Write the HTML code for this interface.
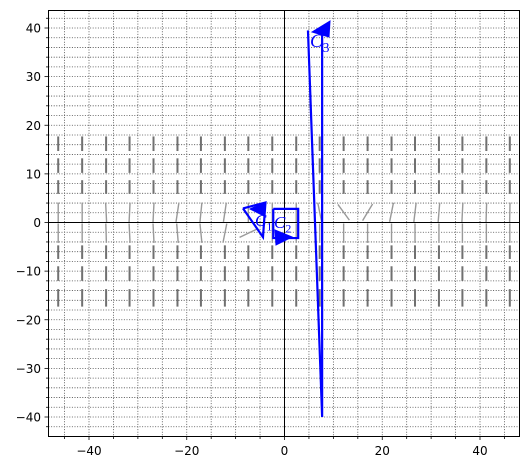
<!DOCTYPE html>
<html><head><meta charset="utf-8"><style>
html,body{margin:0;padding:0;background:#fff;}
svg{display:block;font-family:"DejaVu Sans","Liberation Sans",sans-serif;}
</style></head><body>
<svg id="chart" width="528" height="470" viewBox="0 0 528 470" xmlns="http://www.w3.org/2000/svg">
<rect x="0" y="0" width="528" height="470" fill="#fff"/>
<g id="grid"></g>
<g id="field"></g>
<g id="axes"></g>
<g id="curves"></g>
<rect x="48.5" y="10.5" width="471" height="426" fill="none" stroke="#000" stroke-width="1"/>
</svg>
<script>
const xTickLabels=[-40,-20,0,20,40];
const yTickLabels=[-40,-30,-20,-10,0,10,20,30,40];
const fieldCols=[-46.3,-41.4,-36.5,-31.7,-26.8,-21.9,-17.1,-12.2,-7.4,-2.5,2.4,7.2,12.1,17,21.9,26.7,31.6,36.4,41.3,46.1];
const fieldRows=[16.2,11.7,7.3,2.1,-2.2,-6.1,-10.5,-15.5];
const rowHalfLen=[1.5,1.5,1.4,2.0,2.0,1.4,1.5,1.8];
const row4Slopes=[0,0,-0.05,0.05,0.05,0.15,0.1,0.15,0,0,0,-0.2,-0.73,0.6,0.2,0.12,0.08,0.05,0.03,0.02];
const row5Slopes=[0,0,-0.03,-0.05,-0.05,-0.08,-0.1,0.2,2.1,0,0,0,0,0,0,0,0,0,0,0];
const c1X=[-8.5,-4.4,-3.9,-8.5];
const c1Y=[2.9,-3.0,4.1,2.9];
const c2X=[-2.3,2.8,2.8,-2.3,-2.3];
const c2Y=[2.8,2.8,-3.2,-3.2,2.8];
const c3X=[4.8,7.7,7.7];
const c3Y=[39.5,-40,39.5];

const NS="http://www.w3.org/2000/svg";
const X=u=>284.5+u*4.8875;
const Y=v=>222.5-v*4.8625;
function mk(tag,attrs,parent){const e=document.createElementNS(NS,tag);for(const k in attrs)e.setAttribute(k,attrs[k]);parent.appendChild(e);return e;}
const grid=document.getElementById('grid'),field=document.getElementById('field'),axes=document.getElementById('axes'),curves=document.getElementById('curves');

for(let u=-45;u<=45;u+=5){
 const l=mk('line',{x1:X(u),x2:X(u),y1:10.5,y2:436.5,stroke:'#444','stroke-width':0.8,'stroke-dasharray':'1,1.6'},grid);
 
 
 const t=mk('line',{x1:X(u),x2:X(u),y1:436.5,y2:(u%20===0)?440:439,stroke:'#000','stroke-width':0.8},axes);
 
 
}
for(let v=-42;v<=42;v+=2){
 const l=mk('line',{x1:48.5,x2:519.5,y1:Y(v),y2:Y(v),stroke:'#444','stroke-width':0.8,'stroke-dasharray':'1,1.6'},grid);
 
 
 const t=mk('line',{x1:48.5,x2:(v%10===0)?44.5:46,y1:Y(v),y2:Y(v),stroke:'#000','stroke-width':0.8},axes);
 
 
}
xTickLabels.forEach(v=>{
 const t=mk('text',{x:X(v),y:455,'font-size':12,'text-anchor':'middle',fill:'#000'},axes);
 t.textContent=(v<0?'\u2212'+(-v):v);
 
 
});
yTickLabels.forEach(v=>{
 const t=mk('text',{x:41,y:Y(v)+4.5,'font-size':12,'text-anchor':'end',fill:'#000'},axes);
 t.textContent=(v<0?'\u2212'+(-v):v);
 
 
});
let ax=mk('line',{x1:X(0),x2:X(0),y1:10.5,y2:436.5,stroke:'#000','stroke-width':1},axes);


ax=mk('line',{x1:48.5,x2:519.5,y1:Y(0),y2:Y(0),stroke:'#000','stroke-width':1},axes);



fieldRows.forEach((r,ri)=>{
 fieldCols.forEach((c,ci)=>{
  let s=0; if(ri===3)s=row4Slopes[ci]; if(ri===4)s=row5Slopes[ci];
  const h=rowHalfLen[ri]*4.86;
  const n=Math.sqrt(1+s*s);
  const hy=h/n, hx=s*h/n;
  const light=(ri===3||ri===4);
  const l=mk('line',{x1:X(c)-hx,y1:Y(r)+hy,x2:X(c)+hx,y2:Y(r)-hy,stroke:light?'#999':'#707070','stroke-width':light?1.4:2},field);
  
  
 });
});

function poly(xs,ys,name){
 const p=xs.map((x,i)=>X(x)+','+Y(ys[i])).join(' ');
 const e=mk('polyline',{points:p,fill:'none',stroke:'#0000ff','stroke-width':2.2,'stroke-linejoin':'miter'},curves);
 
 
}
poly(c1X,c1Y,'curve-c1');
poly(c2X,c2Y,'curve-c2');
poly(c3X,c3Y,'curve-c3');
function arrow(pts,name){
 const e=mk('polygon',{points:pts,fill:'#0000ff',stroke:'#0000ff','stroke-width':1},curves);
 
 
}
arrow('250,209 266,202 264,216','arrow-c1');
arrow('292,237 275,230 276,245','arrow-c2');
arrow('312,32 330,21 329,37','arrow-c3');
function label(x,y,sub,size,name){
 const t=mk('text',{x:x,y:y,'font-size':size,fill:'#0000ff','font-family':'"Liberation Serif",serif','font-style':'italic'},curves);
 t.textContent='C';
 const s=mk('tspan',{'font-size':size*0.7,'font-style':'normal',dy:size*0.25},t);
 s.textContent=sub;
 
 
}
label(255,226,'1',17,'label-c1');
label(274,228,'2',17,'label-c2');
label(310,47,'3',19,'label-c3');
</script>
</body></html>
